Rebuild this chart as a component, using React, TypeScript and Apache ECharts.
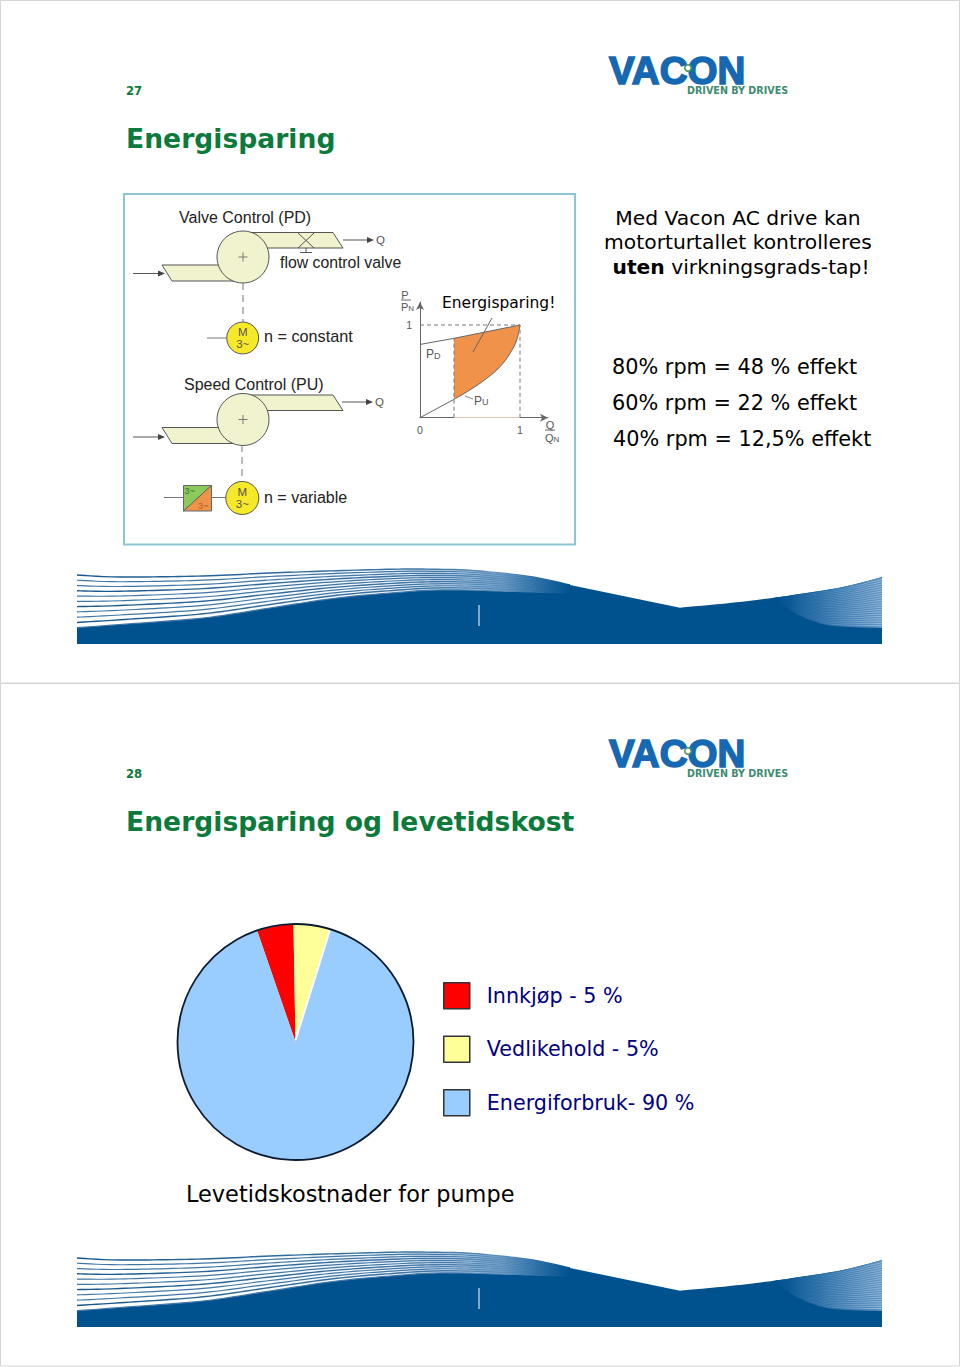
import React, { useEffect, useRef } from "react";
import * as echarts from "echarts";

const pieNames = ["Innkjøp - 5 %", "Vedlikehold - 5%", "Energiforbruk- 90 %"];
const pieValues = [5, 5, 90];
const pieColors = ["#ff0000", "#ffff99", "#99ccff"];

const pdCurve = [[0, 0.79], [0.34, 0.856], [1, 1]];
const puStart = [[0, 0], [0.34, 0.198]];
const upperFill = [[0.34, 0.856], [1, 1]];
const lowerFill = [[0.34, 0.198], [0.5, 0.3], [0.667, 0.424], [0.8, 0.55], [0.9, 0.694], [0.967, 0.838], [1, 1]];
const guideTop = [[0, 1], [1, 1]];
const guideRight = [[1, 0], [1, 1]];
const guideLeft = [[0.34, 0], [0.34, 0.856]];

const rightLines = ["80% rpm = 48 % effekt", "60% rpm = 22 % effekt", "40% rpm = 12,5% effekt"];

const VERDANA = '"DejaVu Sans", Verdana, sans-serif';
const ARIAL = '"Liberation Sans", Arial, sans-serif';
const BLUE = "#00528f";
const GREEN = "#0b7a3a";
const DARK = "#555555";

type P = number[];
function spline(k: P[], step = 6): P[] {
  const out: P[] = [];
  for (let i = 0; i < k.length - 1; i++) {
    const p0 = k[Math.max(i - 1, 0)], p1 = k[i], p2 = k[i + 1], p3 = k[Math.min(i + 2, k.length - 1)];
    const n = Math.max(2, Math.round((p2[0] - p1[0]) / step));
    for (let j = 0; j < n; j++) {
      const t = j / n, t2 = t * t, t3 = t2 * t;
      out.push([0, 1].map((a) => 0.5 * (2 * p1[a] + (p2[a] - p0[a]) * t + (2 * p0[a] - 5 * p1[a] + 4 * p2[a] - p3[a]) * t2 + (3 * p1[a] - p0[a] - 3 * p2[a] + p3[a]) * t3)));
    }
  }
  out.push(k[k.length - 1]);
  return out;
}

const waveXs = [77, 120, 203, 270, 337, 403, 437, 466, 500, 533, 570];
const waveTop = [575, 577, 576, 573, 570.7, 569, 569.3, 570, 573, 577, 585];
const waveBot = [627.7, 624.5, 618, 608, 598, 592, 590, 590, 591, 592, 593];
const rightTop: P[] = [[775, 597.6], [793, 595], [843, 587], [882, 577]];
const rightBot: P[] = [[775, 597.6], [780, 602], [793, 612], [810, 620], [833, 626], [882, 628]];

function lerpLine(a: P[], b: P[], t: number): P[] {
  return a.map((p, i) => [p[0], p[1] + (b[i][1] - p[1]) * t]);
}
function yAt(curve: P[], x: number): number {
  let best = curve[0];
  curve.forEach((p) => { if (Math.abs(p[0] - x) < Math.abs(best[0] - x)) best = p; });
  return best[1];
}

function wave(): any[] {
  const top = waveXs.map((x, i) => [x, waveTop[i]]);
  const bot = waveXs.map((x, i) => [x, waveBot[i]]);
  const els: any[] = [];
  const solid = [
    ...spline(bot),
    [570, 585], [680, 607.7],
    ...spline([[680, 607.7], [730, 603], [775, 597.6], [793, 595], [843, 587], [882, 577]]),
    [882, 644], [77, 644],
  ];
  els.push({ type: "polygon", shape: { points: solid }, style: { fill: BLUE } });
  const band = [...spline(top), ...spline(bot).reverse()];
  els.push({
    type: "polygon",
    shape: { points: band },
    style: {
      fill: {
        type: "linear", x: 0, y: 0, x2: 1, y2: 0,
        colorStops: [
          { offset: 0, color: "rgba(255,255,255,0)" },
          { offset: 0.62, color: "rgba(215,229,241,0.4)" },
          { offset: 0.8, color: "#a9c6e0" },
          { offset: 0.9, color: "#5b8fbe" },
          { offset: 0.98, color: BLUE },
        ],
      },
    },
  });
  for (let i = 0; i <= 10; i++) {
    els.push({
      type: "polyline",
      shape: { points: spline(lerpLine(top, bot, i / 10)) },
      style: {
        fill: "none",
        lineWidth: i % 3 === 0 ? 1.4 : 1.2,
        stroke: {
          type: "linear", x: 0, y: 0, x2: 1, y2: 0,
          colorStops: [
            { offset: 0, color: i % 3 === 0 ? "#17578c" : "#3f76a6" },
            { offset: 0.7, color: "#3f76a6" },
            { offset: 0.86, color: "#5d8fbd" },
            { offset: 1, color: BLUE },
          ],
        },
      },
    });
  }
  const rt = spline(rightTop, 4);
  const rb = spline(rightBot, 4);
  els.push({
    type: "polygon",
    shape: { points: [...rt, ...rb.slice().reverse()] },
    style: {
      fill: {
        type: "linear", x: 0, y: 0, x2: 1, y2: 0,
        colorStops: [
          { offset: 0, color: BLUE },
          { offset: 0.4, color: "#1f67a3" },
          { offset: 1, color: "#5f94c4" },
        ],
      },
    },
  });
  for (let i = 1; i < 22; i++) {
    const f = i / 22;
    const pts: P[] = [];
    for (let x = 790; x <= 882; x += 6) pts.push([x, yAt(rt, x) + (yAt(rb, x) - yAt(rt, x)) * f]);
    pts.push([882, yAt(rt, 882) + (yAt(rb, 882) - yAt(rt, 882)) * f]);
    els.push({
      type: "polyline",
      shape: { points: pts },
      style: {
        fill: "none",
        lineWidth: 0.8,
        stroke: {
          type: "linear", x: 0, y: 0, x2: 1, y2: 0,
          colorStops: [
            { offset: 0, color: "rgba(255,255,255,0)" },
            { offset: 1, color: "rgba(255,255,255,0.45)" },
          ],
        },
      },
    });
  }
  els.push({ type: "line", shape: { x1: 479, y1: 605, x2: 479, y2: 626 }, style: { stroke: "#ffffff", lineWidth: 1 } });
  return els;
}

function T(text: string, x: number, y: number, size: number, o: any = {}): any {
  return {
    type: "text",
    style: {
      text, x, y,
      fill: o.fill || "#000000",
      font: `${o.weight || "normal"} ${size}px ${o.family || VERDANA}`,
      textAlign: o.align || "left",
      textVerticalAlign: "middle",
      ...(o.stroke ? { stroke: o.stroke, lineWidth: o.lw || 1 } : {}),
      ...(o.rich ? { rich: o.rich } : {}),
    },
  };
}
const sub = (main: number, small: number) => ({
  a: { fontSize: main, fontFamily: ARIAL, fill: "#555" },
  s: { fontSize: small, fontFamily: ARIAL, fill: "#555", padding: [3, 0, 0, 0] },
});
const L = (x1: number, y1: number, x2: number, y2: number, stroke = DARK, lineWidth = 1, dash?: number[]) => ({
  type: "line",
  shape: { x1, y1, x2, y2 },
  style: { stroke, lineWidth, ...(dash ? { lineDash: dash } : {}) },
});
const arrow = (x1: number, x2: number, y: number) => [
  L(x1, y, x2 - 6, y),
  { type: "polygon", shape: { points: [[x2 - 7, y - 3], [x2, y], [x2 - 7, y + 3]] }, style: { fill: "#444" } },
];
const poly = (points: P[], fill: string, stroke = DARK) => ({ type: "polygon", shape: { points }, style: { fill, stroke, lineWidth: 1 } });
const circle = (cx: number, cy: number, r: number, fill: string) => ({
  type: "circle", shape: { cx, cy, r }, style: { fill, stroke: DARK, lineWidth: 1 },
});
const PIPE = "#f1f2ce";

function pump(cy: number, inletX: number): any[] {
  return [
    poly([[243, cy - 24.5], [333, cy - 24.5], [343, cy - 9], [269, cy - 9], [243, cy - 9]], PIPE),
    poly([[inletX, cy + 8], [219, cy + 8], [243, cy + 24], [172, cy + 24]], PIPE),
    circle(243, cy, 26, PIPE),
    L(238.5, cy, 247.5, cy, "#777"),
    L(243, cy - 4.5, 243, cy + 4.5, "#777"),
  ];
}

function diagram(): any[] {
  const lab = { family: ARIAL, fill: "#222" };
  return [
    { type: "rect", shape: { x: 124, y: 194, width: 451, height: 350.5 }, style: { fill: "none", stroke: "#8ec5d6", lineWidth: 2 } },
    T("Valve Control (PD)", 179, 217, 16, lab),
    T("flow control valve", 280, 262.5, 15.8, lab),
    T("n = constant", 264, 336, 16.2, lab),
    T("Speed Control (PU)", 184, 384, 16, lab),
    T("n = variable", 264, 497.5, 16, lab),
    ...pump(257, 162),
    ...pump(419.5, 162),
    L(298, 233, 314, 248), L(314, 233, 298, 248),
    L(306, 248, 306, 252), L(300, 252.5, 312, 252.5),
    ...arrow(343, 374, 240),
    ...arrow(133, 165, 273.5),
    ...arrow(342, 373, 402),
    ...arrow(133, 165, 437),
    T("Q", 376, 240, 11.5, { family: ARIAL, fill: "#555" }),
    T("Q", 375, 402, 11.5, { family: ARIAL, fill: "#555" }),
    L(243, 283, 243, 322, "#777", 1, [7, 5]),
    L(242, 445, 242, 482, "#777", 1, [7, 5]),
    L(207, 338, 226, 338, "#777"),
    circle(242.7, 338, 16, "#f6e92a"),
    T("M", 242.7, 331.5, 11.5, { family: ARIAL, align: "center", fill: "#555" }),
    T("3~", 242.7, 343.5, 11.5, { family: ARIAL, align: "center", fill: "#555" }),
    L(164, 497.5, 183, 497.5, "#777"),
    L(211, 497.5, 226, 497.5, "#777"),
    poly([[183.5, 485.5], [211.5, 485.5], [183.5, 511]], "#8cc85a", "#666"),
    poly([[211.5, 485.5], [211.5, 511], [183.5, 511]], "#f0924a", "#666"),
    T("3~", 184.5, 491, 9, { family: ARIAL, fill: "#3a7a30" }),
    T("3~", 198, 505.5, 9, { family: ARIAL, fill: "#b06028" }),
    circle(242.3, 498, 16.5, "#f6e92a"),
    T("M", 242.3, 491.5, 11.5, { family: ARIAL, align: "center", fill: "#555" }),
    T("3~", 242.3, 503.5, 11.5, { family: ARIAL, align: "center", fill: "#555" }),
    T("P", 405, 294.5, 11, { family: ARIAL, align: "center", fill: "#555" }),
    L(401, 300, 411, 300, "#666"),
    T("{a|P}{s|N}", 401, 306.5, 11, { family: ARIAL, rich: sub(11, 8) }),
    T("Energisparing!", 442, 302.5, 15.5),
    L(492, 318, 473, 352, "#666"),
    T("{a|P}{s|D}", 426, 354, 12, { family: ARIAL, rich: sub(12, 9) }),
    L(465, 396, 473, 399, "#888"),
    T("{a|P}{s|U}", 474, 400.5, 12, { family: ARIAL, rich: sub(12, 9) }),
    T("Q", 550, 424.5, 11, { family: ARIAL, align: "center", fill: "#555" }),
    L(545, 430, 555, 430, "#666"),
    T("{a|Q}{s|N}", 545, 437.5, 11, { family: ARIAL, rich: sub(11, 8) }),
  ];
}

function header(num: string, title: string): any[] {
  return [
    T("VACON", 609, 70.5, 38.5, { family: ARIAL, weight: "bold", fill: "#1668b2", stroke: "#1668b2", lw: 1.6 }),
    { type: "circle", shape: { cx: 688, cy: 68, r: 3.2 }, style: { fill: "#ffffff", stroke: "#4a9a5a", lineWidth: 1.6 } },
    T("DRIVEN BY DRIVES", 687, 90.5, 9.6, { weight: "bold", fill: "#3d8b70" }),
    T(num, 126, 90.5, 11.6, { weight: "bold", fill: GREEN }),
    T(title, 126, 138.5, 26.6, { weight: "bold", fill: GREEN }),
    ...wave(),
  ];
}

const withZ = (el: any): any => ({ ...el, z: 20, ...(el.children ? { children: el.children.map(withZ) } : {}) });

export default function App() {
  const ref = useRef<HTMLDivElement>(null);
  useEffect(() => {
    const chart = echarts.init(ref.current!, null, { renderer: "svg" });
    const lineBase = { type: "line", showSymbol: false, silent: true, animation: false };
    chart.setOption({
      animation: false,
      backgroundColor: "#ffffff",
      grid: { left: 420, top: 302, width: 128, height: 115.7 },
      xAxis: {
        type: "value", min: 0, max: 1.28, splitLine: { show: false }, axisTick: { show: false },
        axisLine: { lineStyle: { color: "#666", width: 1 }, symbol: ["none", "arrow"], symbolSize: [6, 8] },
        axisLabel: { customValues: [0, 1], margin: 7, fontSize: 10.5, color: "#555", fontFamily: ARIAL },
      },
      yAxis: {
        type: "value", min: 0, max: 1.248, splitLine: { show: false }, axisTick: { show: false },
        axisLine: { lineStyle: { color: "#666", width: 1 }, symbol: ["none", "arrow"], symbolSize: [6, 8] },
        axisLabel: { customValues: [1], margin: 8, fontSize: 10.5, color: "#555", fontFamily: ARIAL },
      },
      legend: {
        orient: "vertical", left: 443, top: 982, padding: 0, itemWidth: 26, itemHeight: 26, itemGap: 26, icon: "rect",
        data: pieNames, selectedMode: false,
        itemStyle: { borderColor: "#333", borderWidth: 1.5 },
        textStyle: { fontFamily: VERDANA, fontSize: 20.7, color: "#000080", padding: [8, 0, 0, 12] },
      },
      series: [
        { ...lineBase, name: "orange", data: upperFill, lineStyle: { width: 0 }, areaStyle: { color: "#f0924a", opacity: 1 }, z: 2 },
        { ...lineBase, name: "white", data: lowerFill, smooth: 0.4, lineStyle: { width: 0 }, areaStyle: { color: "#ffffff", opacity: 1 }, z: 3 },
        { ...lineBase, name: "PD", data: pdCurve, lineStyle: { color: "#666", width: 1 }, z: 4 },
        { ...lineBase, name: "PU start", data: puStart, lineStyle: { color: "#666", width: 1 }, z: 4 },
        { ...lineBase, name: "PU", data: lowerFill, smooth: 0.4, lineStyle: { color: "#666", width: 1 }, z: 4 },
        { ...lineBase, name: "g1", data: guideTop, lineStyle: { color: "#777", width: 1, type: [4, 3] }, z: 4 },
        { ...lineBase, name: "g2", data: guideRight, lineStyle: { color: "#777", width: 1, type: [4, 3] }, z: 4 },
        { ...lineBase, name: "g3", data: guideLeft, lineStyle: { color: "#777", width: 1, type: [4, 3] }, z: 4 },
        {
          type: "pie", center: [295.5, 1042], radius: 117.5, startAngle: 109, clockwise: true, silent: true,
          label: { show: false }, labelLine: { show: false }, animation: false,
          data: pieNames.map((name, i) => ({ name, value: pieValues[i], itemStyle: { color: pieColors[i] } })),
        },
      ],
      graphic: {
        z: 20,
        elements: [
          withZ({
            type: "group",
            children: [
              { type: "rect", shape: { x: 0.5, y: 0.5, width: 959, height: 682.5 }, style: { fill: "none", stroke: "#d4d4d4", lineWidth: 1 } },
              { type: "rect", shape: { x: 0.5, y: 683.5, width: 959, height: 682.5 }, style: { fill: "none", stroke: "#d4d4d4", lineWidth: 1 } },
              ...header("27", "Energisparing"),
              ...diagram(),
              T("Med Vacon AC drive kan", 738, 218, 20.3, { align: "center" }),
              T("motorturtallet kontrolleres", 738, 242, 20.3, { align: "center" }),
              T("{b|uten} {a|virkningsgrads-tap!}", 741, 267, 20.3, {
                align: "center",
                rich: {
                  a: { fontFamily: VERDANA, fontSize: 20.3, fill: "#000" },
                  b: { fontFamily: VERDANA, fontSize: 20.3, fontWeight: "bold", fill: "#000" },
                },
              }),
              T(rightLines[0], 612, 366.5, 20.8),
              T(rightLines[1], 612, 402.5, 20.8),
              T(rightLines[2], 613, 438.5, 20.8),
              L(295.5, 1040, 330, 930, "#ffffff", 2),
              { type: "circle", shape: { cx: 295.5, cy: 1042, r: 118 }, style: { fill: "none", stroke: "#0c1a30", lineWidth: 1.8 } },
              T("Levetidskostnader for pumpe", 186, 1194, 22.4),
              { type: "group", y: 683, children: header("28", "Energisparing og levetidskost") },
            ],
          }),
        ],
      },
    });
    return () => chart.dispose();
  }, []);
  return <div ref={ref} style={{ position: "absolute", left: 0, top: 0, width: 960, height: 1367 }} />;
}
